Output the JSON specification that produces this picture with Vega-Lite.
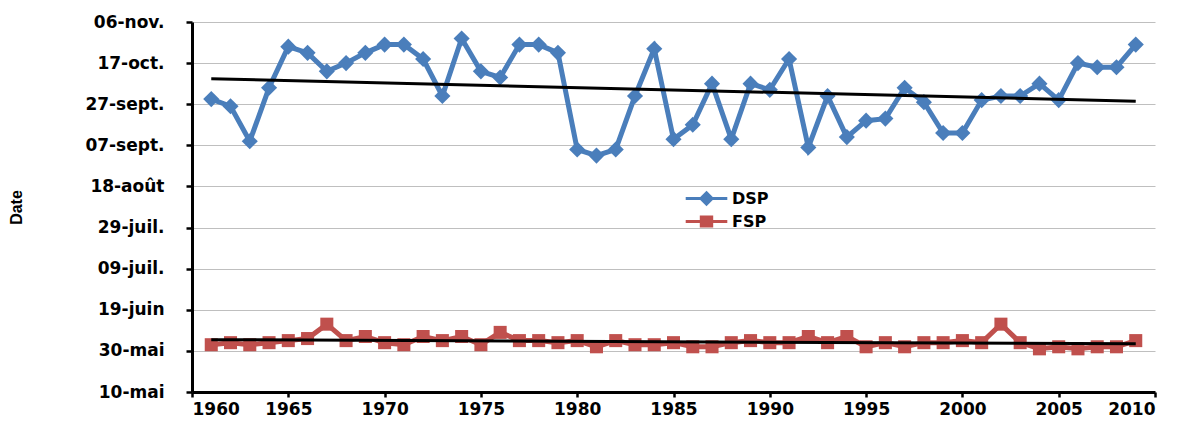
{
  "$schema": "https://vega.github.io/schema/vega-lite/v6.json",
  "width": 963,
  "height": 370,
  "autosize": {"type": "none"},
  "padding": {"left": 192, "top": 22, "right": 29, "bottom": 33},
  "background": "white",
  "config": {
    "view": {"stroke": null},
    "font": "DejaVu Sans",
    "axis": {"labelFont": "DejaVu Sans", "labelFontWeight": "bold", "labelColor": "black", "titleFont": "DejaVu Sans", "titleColor": "black"}
  },
  "data": {"values": [
    {"year":1961,"series":"DSP","day":142.5},{"year":1962,"series":"DSP","day":139},{"year":1963,"series":"DSP","day":122},{"year":1964,"series":"DSP","day":148},{"year":1965,"series":"DSP","day":168},{"year":1966,"series":"DSP","day":165},{"year":1967,"series":"DSP","day":156},{"year":1968,"series":"DSP","day":160},{"year":1969,"series":"DSP","day":165},{"year":1970,"series":"DSP","day":169},
    {"year":1971,"series":"DSP","day":169},{"year":1972,"series":"DSP","day":162},{"year":1973,"series":"DSP","day":144},{"year":1974,"series":"DSP","day":172},{"year":1975,"series":"DSP","day":156},{"year":1976,"series":"DSP","day":153},{"year":1977,"series":"DSP","day":169},{"year":1978,"series":"DSP","day":169},{"year":1979,"series":"DSP","day":165},{"year":1980,"series":"DSP","day":118},
    {"year":1981,"series":"DSP","day":115},{"year":1982,"series":"DSP","day":118},{"year":1983,"series":"DSP","day":144},{"year":1984,"series":"DSP","day":167},{"year":1985,"series":"DSP","day":123},{"year":1986,"series":"DSP","day":130},{"year":1987,"series":"DSP","day":150},{"year":1988,"series":"DSP","day":123},{"year":1989,"series":"DSP","day":150},{"year":1990,"series":"DSP","day":147},
    {"year":1991,"series":"DSP","day":162},{"year":1992,"series":"DSP","day":119},{"year":1993,"series":"DSP","day":144},{"year":1994,"series":"DSP","day":124},{"year":1995,"series":"DSP","day":132},{"year":1996,"series":"DSP","day":133},{"year":1997,"series":"DSP","day":148},{"year":1998,"series":"DSP","day":141},{"year":1999,"series":"DSP","day":126},{"year":2000,"series":"DSP","day":126},
    {"year":2001,"series":"DSP","day":142},{"year":2002,"series":"DSP","day":144},{"year":2003,"series":"DSP","day":144},{"year":2004,"series":"DSP","day":150},{"year":2005,"series":"DSP","day":142},{"year":2006,"series":"DSP","day":160},{"year":2007,"series":"DSP","day":158},{"year":2008,"series":"DSP","day":158},{"year":2009,"series":"DSP","day":169},
    {"year":1961,"series":"FSP","day":23},{"year":1962,"series":"FSP","day":24},{"year":1963,"series":"FSP","day":23},{"year":1964,"series":"FSP","day":24},{"year":1965,"series":"FSP","day":25},{"year":1966,"series":"FSP","day":26},{"year":1967,"series":"FSP","day":33},{"year":1968,"series":"FSP","day":25},{"year":1969,"series":"FSP","day":27},{"year":1970,"series":"FSP","day":24},
    {"year":1971,"series":"FSP","day":23},{"year":1972,"series":"FSP","day":27},{"year":1973,"series":"FSP","day":25},{"year":1974,"series":"FSP","day":27},{"year":1975,"series":"FSP","day":23},{"year":1976,"series":"FSP","day":29},{"year":1977,"series":"FSP","day":25},{"year":1978,"series":"FSP","day":25},{"year":1979,"series":"FSP","day":24},{"year":1980,"series":"FSP","day":25},
    {"year":1981,"series":"FSP","day":22},{"year":1982,"series":"FSP","day":25},{"year":1983,"series":"FSP","day":23},{"year":1984,"series":"FSP","day":23},{"year":1985,"series":"FSP","day":24},{"year":1986,"series":"FSP","day":22},{"year":1987,"series":"FSP","day":22},{"year":1988,"series":"FSP","day":24},{"year":1989,"series":"FSP","day":25},{"year":1990,"series":"FSP","day":24},
    {"year":1991,"series":"FSP","day":24},{"year":1992,"series":"FSP","day":27},{"year":1993,"series":"FSP","day":24},{"year":1994,"series":"FSP","day":27},{"year":1995,"series":"FSP","day":22},{"year":1996,"series":"FSP","day":24},{"year":1997,"series":"FSP","day":22},{"year":1998,"series":"FSP","day":24},{"year":1999,"series":"FSP","day":24},{"year":2000,"series":"FSP","day":25},
    {"year":2001,"series":"FSP","day":24},{"year":2002,"series":"FSP","day":33},{"year":2003,"series":"FSP","day":24},{"year":2004,"series":"FSP","day":21},{"year":2005,"series":"FSP","day":22},{"year":2006,"series":"FSP","day":21},{"year":2007,"series":"FSP","day":22},{"year":2008,"series":"FSP","day":22},{"year":2009,"series":"FSP","day":25}
  ]},
  "encoding": {
    "x": {"field": "year", "type": "quantitative", "scale": {"domain": [1960, 2010], "nice": false, "zero": false},
      "axis": {"values": [1960,1965,1970,1975,1980,1985,1990,1995,2000,2005,2010], "format": "d", "title": null, "grid": false,
        "domainColor": "black", "domainWidth": 3, "tickColor": "black", "tickWidth": 2.5, "tickSize": 5, "labelFontSize": 17, "labelPadding": 4}},
    "y": {"field": "day", "type": "quantitative", "scale": {"domain": [0, 180], "nice": false, "zero": false},
      "axis": {"values": [0,20,40,60,80,100,120,140,160,180],
        "labelExpr": "['10-mai','30-mai','19-juin','09-juil.','29-juil.','18-août','07-sept.','27-sept.','17-oct.','06-nov.'][round(datum.value/20)]",
        "title": "Date", "titleFontSize": 16, "titleFont": "Liberation Sans", "titleFontWeight": "bold", "titleX": -168, "titleY": 185,
        "grid": true, "gridColor": "#bfbfbf", "gridWidth": 1.2,
        "domainColor": "black", "domainWidth": 3, "tickColor": "black", "tickWidth": 2.5, "tickSize": 6, "labelFontSize": 17, "labelPadding": 22}}
  },
  "layer": [
    {
      "mark": {"type": "line", "strokeWidth": 5},
      "encoding": {
        "color": {"field": "series", "type": "nominal",
          "scale": {"domain": ["DSP", "FSP"], "range": ["#4a7ebb", "#c0504d"]},
          "legend": {"title": null, "orient": "none", "legendX": 505, "legendY": 167, "labelFontSize": 16, "labelFontWeight": "bold", "labelColor": "black", "labelFont": "DejaVu Sans",
            "symbolSize": 256, "symbolStrokeWidth": 3, "rowPadding": 0, "labelOffset": 16,
            "symbolType": "M-2.6,0H2.6",
            "encode": {"symbols": {"update": {
              "shape": {"signal": "datum.value === 'DSP' ? 'M-2.6,0H2.6M0,-0.7L0.7,0L0,0.7L-0.7,0Z' : 'M-2.6,0H2.6M-0.65,-0.55H0.65V0.55H-0.65Z'"},
              "fill": {"signal": "datum.value === 'DSP' ? '#4a7ebb' : '#c0504d'"},
              "fillOpacity": {"value": 1}
            }}}}
        }
      }
    },
    {
      "transform": [{"filter": "datum.series === 'DSP'"}],
      "mark": {"type": "point", "shape": "diamond", "filled": true, "opacity": 1, "size": 260, "color": "#4a7ebb"}
    },
    {
      "transform": [{"filter": "datum.series === 'FSP'"}],
      "mark": {"type": "point", "shape": "square", "filled": true, "opacity": 1, "size": 170, "color": "#c0504d"}
    },
    {
      "transform": [{"regression": "day", "on": "year", "groupby": ["series"], "extent": [1961, 2009]}],
      "mark": {"type": "line", "color": "black", "strokeWidth": 3},
      "encoding": {"detail": {"field": "series", "type": "nominal"}}
    }
  ]
}
